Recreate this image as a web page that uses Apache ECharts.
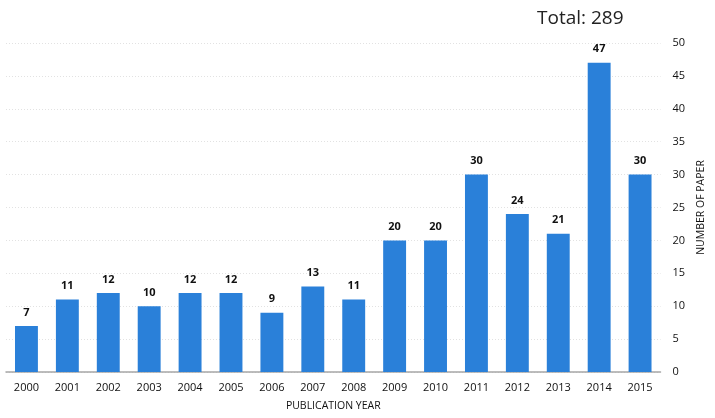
<!DOCTYPE html>
<html><head><meta charset="utf-8">
<script src="https://cdn.jsdelivr.net/npm/echarts@6/dist/echarts.min.js"></script>
<style>html,body{margin:0;padding:0;background:#fff}#c{width:715px;height:418px}</style>
</head><body><div id="c"></div>
<script>
var years = ['2000','2001','2002','2003','2004','2005','2006','2007','2008','2009','2010','2011','2012','2013','2014','2015'];
var papers = [7,11,12,10,12,12,9,13,11,20,20,30,24,21,47,30];
var yTicks = {min:0, max:50, interval:5};
var total = papers.reduce(function(a,b){return a+b;},0);
var FONT = '"Open Sans", "Liberation Sans", sans-serif';
var chart = echarts.init(document.getElementById('c'));
chart.setOption({
  animation:false,
  title:{text:'Total: ' + total, left:532, top:4, textStyle:{fontFamily:FONT, fontSize:19, fontWeight:'normal', color:'#222'}},
  grid:{left:6, right:50, top:43, bottom:46},
  xAxis:{type:'category', data:years,
    axisLine:{lineStyle:{color:'#a6a6a6', width:1.5}}, axisTick:{show:false},
    axisLabel:{color:'#111', fontFamily:FONT, fontSize:11, margin:10},
    name:'PUBLICATION YEAR', nameLocation:'middle', nameGap:29,
    nameTextStyle:{color:'#111', fontFamily:FONT, fontSize:10.5}},
  yAxis:{type:'value', position:'right', min:yTicks.min, max:yTicks.max, interval:yTicks.interval,
    axisLine:{show:false}, axisTick:{show:false},
    splitLine:{lineStyle:{color:'#e2e2e2', type:[1,2]}},
    axisLabel:{color:'#111', fontFamily:FONT, fontSize:11, margin:12},
    name:'NUMBER OF PAPER', nameLocation:'middle', nameGap:32, nameRotate:90,
    nameTextStyle:{color:'#111', fontFamily:FONT, fontSize:10.5}},
  series:[{type:'bar', data:papers, barWidth:'56%',
    itemStyle:{color:'#2a80d9'},
    label:{show:true, position:'top', distance:8, color:'#111', fontFamily:FONT, fontSize:11, fontWeight:'bold'}}]
});
</script></body></html>
